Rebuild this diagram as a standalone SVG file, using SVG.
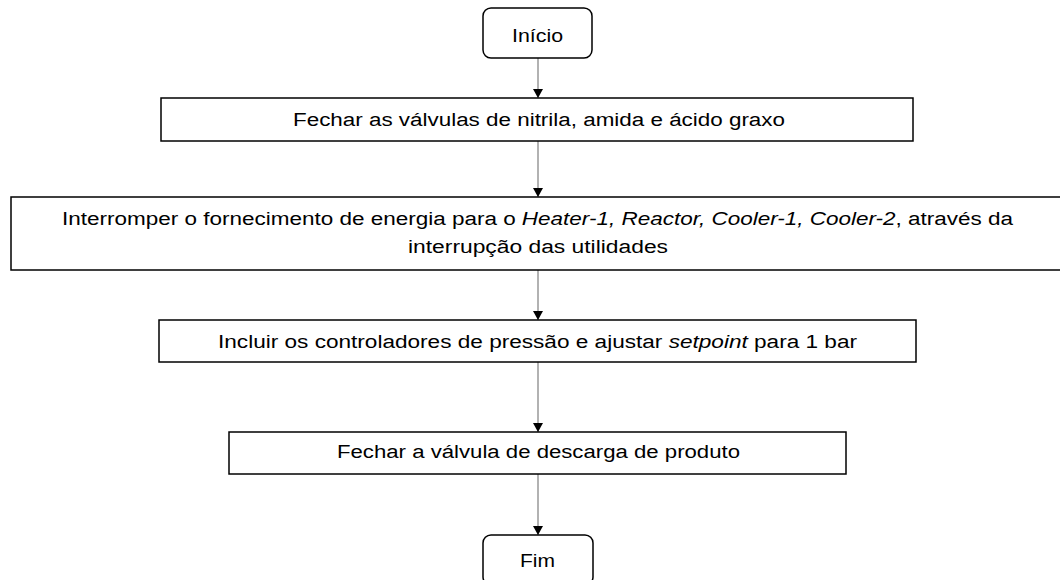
<svg xmlns="http://www.w3.org/2000/svg" width="1060" height="580" viewBox="0 0 1060 580">
<style>
.box{fill:#fff;stroke:#000;stroke-width:1.5}
.t{font-family:"Liberation Sans",Arial,sans-serif;font-size:18px;fill:#000;text-anchor:middle}
.i{font-style:italic}
.c{stroke:#7f7f7f;stroke-width:1.2;fill:none}
</style>
<defs>
<marker id="ah" markerWidth="10" markerHeight="10" refX="9" refY="5" orient="auto" markerUnits="userSpaceOnUse">
<path d="M0,0 L9,5 L0,10 Z" fill="#000"/>
</marker>
</defs>
<rect width="1060" height="580" fill="#fff"/>
<g id="connectors">
<line class="c" x1="538" y1="58" x2="538" y2="98" marker-end="url(#ah)"/>
<line class="c" x1="538" y1="141" x2="538" y2="197" marker-end="url(#ah)"/>
<line class="c" x1="538" y1="270" x2="538" y2="320" marker-end="url(#ah)"/>
<line class="c" x1="538" y1="362" x2="538" y2="432" marker-end="url(#ah)"/>
<line class="c" x1="538" y1="474" x2="538" y2="535" marker-end="url(#ah)"/>
</g>
<g id="inicio">
<rect class="box" x="483" y="8" width="109" height="50" rx="8"/>
<text class="t" x="537.5" y="42" textLength="51" lengthAdjust="spacingAndGlyphs">Início</text>
</g>
<g id="step1">
<rect class="box" x="161" y="98" width="752" height="43"/>
<text class="t" x="539" y="126" textLength="492" lengthAdjust="spacingAndGlyphs">Fechar as válvulas de nitrila, amida e ácido graxo</text>
</g>
<g id="step2">
<rect class="box" x="11" y="197" width="1060" height="73"/>
<text class="t" x="537.5" y="225" textLength="951" lengthAdjust="spacingAndGlyphs">Interromper o fornecimento de energia para o <tspan class="i">Heater-1, Reactor, Cooler-1, Cooler-2</tspan>, através da</text>
<text class="t" x="538" y="253" textLength="260" lengthAdjust="spacingAndGlyphs">interrupção das utilidades</text>
</g>
<g id="step3">
<rect class="box" x="159" y="320" width="757" height="42"/>
<text class="t" x="537.5" y="348" textLength="639" lengthAdjust="spacingAndGlyphs">Incluir os controladores de pressão e ajustar <tspan class="i">setpoint</tspan> para 1 bar</text>
</g>
<g id="step4">
<rect class="box" x="229" y="432" width="617" height="42"/>
<text class="t" x="538.5" y="458" textLength="403" lengthAdjust="spacingAndGlyphs">Fechar a válvula de descarga de produto</text>
</g>
<g id="fim">
<rect class="box" x="483" y="535" width="110" height="50" rx="8"/>
<text class="t" x="537.5" y="567" textLength="35" lengthAdjust="spacingAndGlyphs">Fim</text>
</g>
</svg>
